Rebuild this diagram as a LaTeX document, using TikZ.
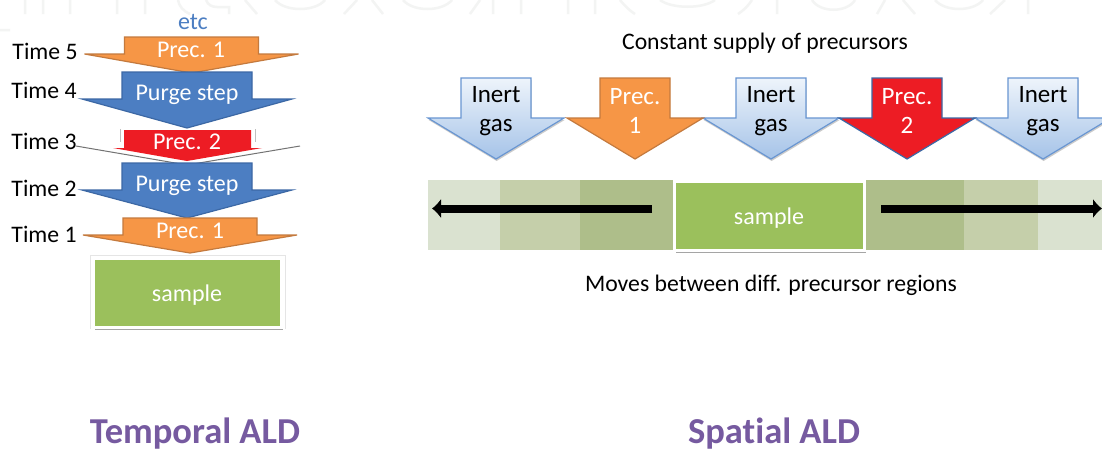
\documentclass[tikz,border=0pt]{standalone}
\usepackage{fontspec}
\setmainfont[Ligatures=NoCommon]{Carlito}
\usetikzlibrary{shadows,calc,arrows.meta}
\definecolor{orangeF}{RGB}{246,150,70}
\definecolor{orangeD}{RGB}{196,122,62}
\definecolor{blueF}{RGB}{76,126,194}
\definecolor{blueD}{RGB}{60,104,165}
\definecolor{redF}{RGB}{237,28,36}
\definecolor{greenF}{RGB}{155,192,92}
\definecolor{lightTop}{RGB}{238,244,251}
\definecolor{lightBot}{RGB}{165,195,232}
\definecolor{lightD}{RGB}{105,150,210}
\definecolor{titleC}{RGB}{118,90,160}
\definecolor{etcC}{RGB}{76,126,194}
\definecolor{shadeA}{RGB}{218,226,208}
\definecolor{shadeB}{RGB}{197,207,170}
\definecolor{shadeC}{RGB}{174,190,138}
\definecolor{wmC}{RGB}{243,244,243}
\tikzset{
  x=1pt,y=-1pt,
  lbl/.style={font=\fontsize{23.7}{24}\selectfont,text=black,inner sep=0pt,anchor=center},
  wlbl/.style={font=\fontsize{24}{25}\selectfont,text=white,inner sep=0pt,anchor=center},
  gaslbl/.style={font=\fontsize{25}{29}\selectfont,inner sep=0pt,align=center,anchor=center},
  title/.style={font=\fontsize{36.5}{38}\selectfont\bfseries,text=titleC,inner sep=0pt,anchor=center},
  samplebox/.style={fill=greenF,draw=white,line width=3pt,inner sep=0pt,drop shadow={shadow xshift=1pt,shadow yshift=-2.6pt,fill=black!50,opacity=.7}},
  halo/.style={draw=black!10,line width=.8pt},
  bigarrow/.style={line width=1.2pt,line join=miter},
  wmark/.style={draw=wmC,line width=2.5pt},
}
\newcommand{\downarr}[7]{%
  \draw[bigarrow,#7] (#1-#2,#3) -- (#1+#2,#3) -- (#1+#2,#4) -- (#1+#5,#4) -- (#1,#6) -- (#1-#5,#4) -- (#1-#2,#4) -- cycle;}
\begin{document}
\begin{tikzpicture}
\useasboundingbox (0,0) rectangle (1102,451);
\fill[white] (0,0) rectangle (1102,451);
% faint cropped watermark strokes
\draw[wmark] (25,0)--(25,14) (43,0)--(43,14) (70,0)--(70,14) (117,0)--(117,14) (145,0)--(145,14)
  (178,0) .. controls (179,6) and (183,11) .. (190,14)
  (206,0) .. controls (208,5) and (212,7) .. (217,7) -- (229,7) -- (229,14)
  (245,0)--(257,14)
  (275,0) .. controls (285,12) and (315,12) .. (325,0)
  (357,0)--(344,14) (372,0)--(383,14)
  (403,0) .. controls (413,12) and (442,12) .. (452,0)
  (480,0)--(470,14) (493,0)--(493,14) (521,0)--(521,14)
  (568,0)--(568,14) (595,0)--(595,14)
  (620,0) .. controls (625,6) and (630,11) .. (635,14)
  (660,0) .. controls (672,9) and (703,9) .. (715,0)
  (752,0) .. controls (748,6) and (744,10) .. (738,14)
  (777,0)--(777,14)
  (812,0) .. controls (820,13) and (847,13) .. (855,0)
  (885,0)--(877,14) (903,0)--(915,14)
  (935,0) .. controls (945,12) and (973,12) .. (983,0)
  (1005,0)--(990,14) (1028,0)--(1028,14)
  (0,30)--(10,30);
% left stack
\node[title] (tt) at (195,434) {Temporal ALD};
\node[title] (ts) at (774,434) {Spatial ALD};
\node[inner sep=0pt,font=\fontsize{24}{25}\selectfont,text=etcC] (etc) at (193,22) {etc};
\node[lbl] (t5) at (45,51.5) {Time 5};
\node[lbl] (t4) at (44,90) {Time 4};
\node[lbl] (t3) at (44,141) {Time 3};
\node[lbl] (t2) at (44,188) {Time 2};
\node[lbl] (t1) at (44,234) {Time 1};
% sample left
\node[samplebox,minimum width=188pt,minimum height=69pt] (sl) at (187.5,293) {};
\draw[halo] ($(sl.south west)+(-2,0)$) -- ($(sl.north west)+(-2,-2)$) -- ($(sl.north east)+(2,-2)$) -- ($(sl.south east)+(2,0)$);
\node[wlbl] at (187,295) {sample};
% arrows
\downarr{191.5}{67}{37}{54}{107}{73}{fill=orangeF,draw=orangeD}
\node[wlbl] (p1a) at (191,50) {Prec. 1};
\downarr{187}{65}{72}{99}{105}{128}{fill=blueF,draw=blueD}
\node[wlbl] (pg1) at (187,94.5) {Purge step};
\draw[black!55,line width=1pt] (76,146) -- (187,165) -- (300,146);
\draw[black!25,line width=.7pt] (120,129)--(120,142) (255,129)--(255,142);
\fill[redF] (124,130) -- (251,130) -- (251,148) -- (262,148) -- (187,161) -- (113,148) -- (124,148) -- cycle;
\node[wlbl] (p2) at (187,142) {Prec. 2};
\downarr{187}{65}{163}{190}{105}{218}{fill=blueF,draw=blueD}
\node[wlbl] (pg2) at (187,185.5) {Purge step};
\downarr{190}{67}{218}{235}{107}{253}{fill=orangeF,draw=orangeD}
\node[wlbl] (p1b) at (190,231) {Prec. 1};
% right
\node[lbl] (cs) at (765,43) {Constant supply of precursors};
\node[lbl] (mv) at (771,285) {Moves between diff. precursor regions};
\fill[shadeA] (428,180) rectangle (1102,250);
\fill[shadeB] (500,180) rectangle (1038,250);
\fill[shadeC] (580,180) rectangle (964,250);
\node[samplebox,minimum width=190pt,minimum height=69pt] (sr) at (769.5,216) {};
\node[wlbl] at (769,218) {sample};
\coordinate (la) at (652,208.5);
\coordinate (lb) at (432,208.5);
\coordinate (ra) at (881,208.5);
\coordinate (rb) at (1102,208.5);
\draw[line width=8pt,-{Latex[length=9pt,width=20pt]}] (la) -- (lb);
\draw[line width=8pt,-{Latex[length=9pt,width=20pt]}] (ra) -- (rb);
% top row
\newcommand{\gasarr}[1]{\draw[bigarrow,draw=lightD,top color=lightTop,bottom color=lightBot,drop shadow={shadow xshift=.6pt,shadow yshift=-2pt,fill=black!40,opacity=.5}] (#1-35,78) -- (#1+35,78) -- (#1+35,118) -- (#1+68,118) -- (#1,159) -- (#1-68,118) -- (#1-35,118) -- cycle;}
\gasarr{496}
\gasarr{771}
\gasarr{1043}
\downarr{635}{35}{78}{118}{68}{159}{fill=orangeF,draw=orangeD}
\downarr{907}{35}{78}{118}{68}{159}{fill=redF,draw=blueD}
\node[gaslbl] (g1) at (496,111) {Inert\\gas};
\node[gaslbl,text=white] (p1) at (635,110.5) {Prec.\\1};
\node[gaslbl] (g2) at (771,111) {Inert\\gas};
\node[gaslbl,text=white] (p2r) at (907,110.5) {Prec.\\2};
\node[gaslbl] (g3) at (1043,111) {Inert\\gas};
\end{tikzpicture}
\end{document}
